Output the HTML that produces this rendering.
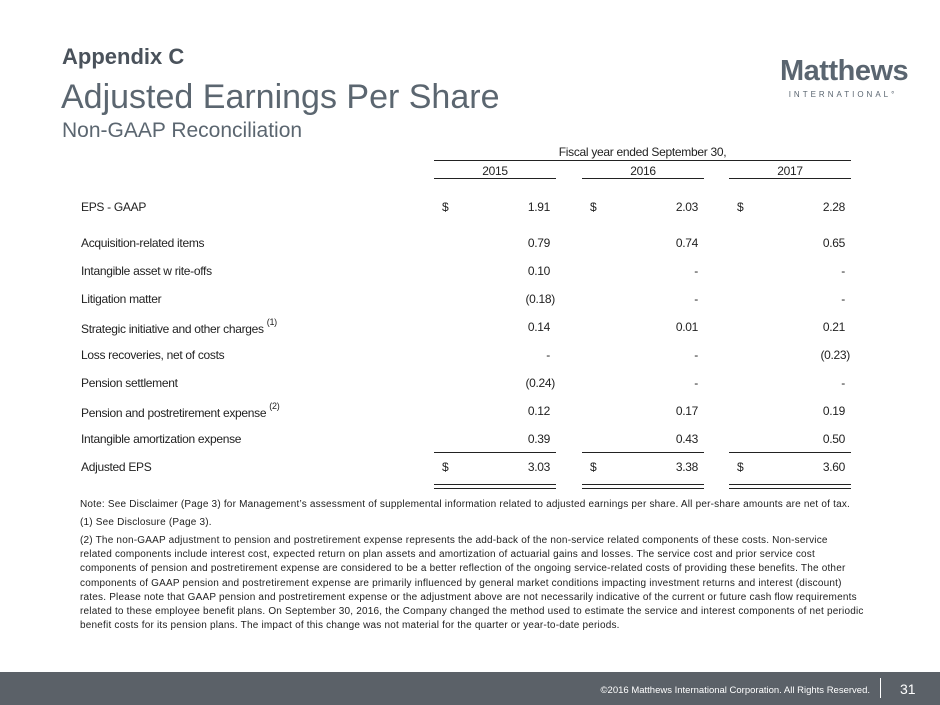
<!DOCTYPE html>
<html><head><meta charset="utf-8"><style>
body{margin:0;width:940px;height:705px;position:relative;background:#fff;font-family:"Liberation Sans",sans-serif;overflow:hidden}
.a{position:absolute;white-space:nowrap}
.t{font-size:12px;color:#222;letter-spacing:-0.3px}
.r{text-align:right}
.ln{position:absolute;height:0;border-top:1.5px solid #222}
.note{position:absolute;left:80px;font-size:10px;color:#222;letter-spacing:0.2px;line-height:14.2px;white-space:nowrap}
</style></head><body>
<div class="a" style="left:62px;top:44px;font-size:22px;font-weight:bold;color:#4a525b">Appendix C</div>
<div class="a" style="left:61px;top:78px;font-size:34px;color:#5b6670">Adjusted Earnings Per Share</div>
<div class="a" style="left:62px;top:119px;font-size:21px;color:#5b6670">Non-GAAP Reconciliation</div>
<div class="a" style="left:780px;top:56px;width:126px;text-align:center;color:#5a6570">
 <div style="font-size:29px;font-weight:bold;letter-spacing:-0.5px;line-height:30px">Matthews</div>
 <div style="font-size:8px;letter-spacing:3px;margin-top:4px">INTERNATIONAL°</div>
</div>
<div class="a t" style="left:434px;width:417px;text-align:center;top:145px">Fiscal year ended September 30,</div>
<div class="ln" style="left:434px;width:417px;top:160px"></div>
<div id="tbl"></div>
<div class="note" style="top:498px">Note: See Disclaimer (Page 3) for Management’s assessment of supplemental information related to adjusted earnings per share. All per-share amounts are net of tax.</div>
<div class="note" style="top:516px">(1) See Disclosure (Page 3).</div>
<div class="note" style="top:534px">(2) The non-GAAP adjustment to pension and postretirement expense represents the add-back of the non-service related components of these costs. Non-service<br>related components include interest cost, expected return on plan assets and amortization of actuarial gains and losses. The service cost and prior service cost<br>components of pension and postretirement expense are considered to be a better reflection of the ongoing service-related costs of providing these benefits. The other<br>components of GAAP pension and postretirement expense are primarily influenced by general market conditions impacting investment returns and interest (discount)<br>rates. Please note that GAAP pension and postretirement expense or the adjustment above are not necessarily indicative of the current or future cash flow requirements<br>related to these employee benefit plans. On September 30, 2016, the Company changed the method used to estimate the service and interest components of net periodic<br>benefit costs for its pension plans. The impact of this change was not material for the quarter or year-to-date periods.</div>
<div class="a" style="left:0;top:672px;width:940px;height:33px;background:#5b6168"></div>
<div class="a" style="right:70px;top:685px;font-size:9.5px;color:#fff">©2016 Matthews International Corporation. All Rights Reserved.</div>
<div class="a" style="left:880px;top:678px;width:1px;height:20px;background:#fff"></div>
<div class="a" style="left:900px;top:681px;font-size:14px;color:#fff">31</div>
<script>
const years=["2015","2016","2017"];
const labels=["EPS - GAAP","Acquisition-related items","Intangible asset w rite-offs","Litigation matter","Strategic initiative and other charges","Loss recoveries, net of costs","Pension settlement","Pension and postretirement expense","Intangible amortization expense","Adjusted EPS"];
const sups=["","","","","(1)","","","(2)","",""];
const v2015=["1.91","0.79","0.10","(0.18)","0.14","-","(0.24)","0.12","0.39","3.03"];
const v2016=["2.03","0.74","-","-","0.01","-","-","0.17","0.43","3.38"];
const v2017=["2.28","0.65","-","-","0.21","(0.23)","-","0.19","0.50","3.60"];
const series=[v2015,v2016,v2017];
const tbl=document.getElementById('tbl');
const colX=[434,582,729],colW=122;
const rowY=[208,244,272,300,328,356,384,412,440,468];
function add(html,cls,style,name){const d=document.createElement('div');d.className=cls;d.style.cssText=style;d.innerHTML=html;


tbl.appendChild(d);return d;}
years.forEach((y,i)=>{
 add(y,'a t','left:'+colX[i]+'px;width:'+colW+'px;text-align:center;top:164px','year-header-'+y);
 add('','ln','left:'+colX[i]+'px;width:'+colW+'px;top:178px','year-rule-'+y);
 add('','ln','left:'+colX[i]+'px;width:'+colW+'px;top:452px','subtotal-rule-'+y);
 add('','ln','left:'+colX[i]+'px;width:'+colW+'px;top:484px','total-rule-top-'+y);
 add('','ln','left:'+colX[i]+'px;width:'+colW+'px;top:488px','total-rule-bottom-'+y);
});
labels.forEach((l,r)=>{
 const y=rowY[r]-8;
 add(l+(sups[r]?' <sup style="font-size:9px;position:relative;top:-3px">'+sups[r]+'</sup>':''),'a t','left:81px;top:'+y+'px','row-label-'+r);
 series.forEach((s,i)=>{
  if(r===0||r===labels.length-1) add('$','a t','left:'+(colX[i]+8)+'px;top:'+y+'px','dollar-'+r+'-'+i);
  const v=s[r];const w=v.startsWith('(')?colW-1:colW-6;
  add(v,'a t r','left:'+colX[i]+'px;width:'+w+'px;top:'+y+'px','value-'+years[i]+'-'+r);
 });
});
</script>
</body></html>
